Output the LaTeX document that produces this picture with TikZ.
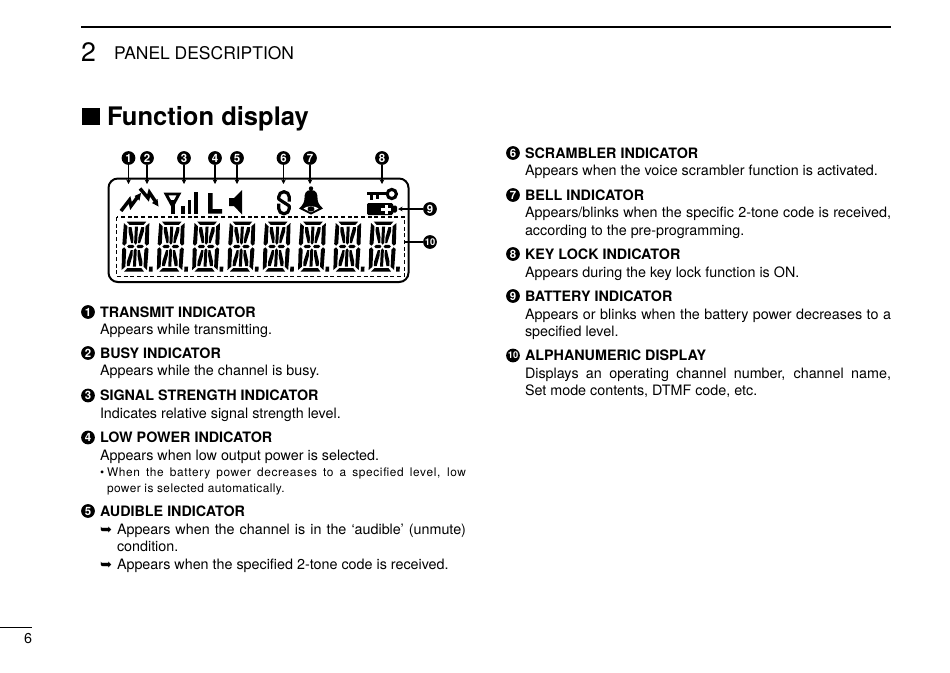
\documentclass[tikz,border=0pt]{standalone}
\usepackage{fontspec}
\setmainfont{TeX Gyre Heros}
\newfontfamily\symfont{DejaVu Sans}
\usetikzlibrary{arrows.meta}
\newcommand{\jl}[2]{\makebox[#1pt][s]{#2}}
\newcommand{\lcddigit}[1]{%
\begin{scope}[shift={(#1,221.5)},xslant=0.05]
\fill (3.6,0)--(23.4,0)--(20.8,3.3)--(6.6,3.3)--cycle;
\fill (3.6,50)--(23.4,50)--(20.8,46.7)--(6.6,46.7)--cycle;
\fill (1,1.5)--(4.6,4.8)--(4.6,21.8)--(2.6,24.2)--(0.5,22.5)--cycle;
\fill (26.4,1.5)--(22.8,4.8)--(22.8,21.8)--(24.8,24.2)--(26.9,22.5)--cycle;
\fill (1,48.5)--(4.6,45.2)--(4.6,28.2)--(2.6,25.8)--(0.5,27.5)--cycle;
\fill (26.4,48.5)--(22.8,45.2)--(22.8,28.2)--(24.8,25.8)--(26.9,27.5)--cycle;
\fill (12.2,5)--(15.2,5)--(15.2,21.2)--(13.7,23.2)--(12.2,21.2)--cycle;
\fill (12.2,45)--(15.2,45)--(15.2,28.8)--(13.7,26.8)--(12.2,28.8)--cycle;
\fill (5.4,25)--(7,23.4)--(11.2,23.4)--(12.6,25)--(11.2,26.6)--(7,26.6)--cycle;
\fill (14.8,25)--(16.2,23.4)--(20.4,23.4)--(22,25)--(20.4,26.6)--(16.2,26.6)--cycle;
\fill (6,5.5)--(8.8,5.5)--(11.2,16)--(11.2,21.5)--(9.2,21.5)--(6,10)--cycle;
\fill (21.4,5.5)--(18.6,5.5)--(16.2,16)--(16.2,21.5)--(18.2,21.5)--(21.4,10)--cycle;
\fill (6,44.5)--(8.8,44.5)--(11.2,34)--(11.2,28.5)--(9.2,28.5)--(6,40)--cycle;
\fill (21.4,44.5)--(18.6,44.5)--(16.2,34)--(16.2,28.5)--(18.2,28.5)--(21.4,40)--cycle;
\fill (28.4,45) rectangle (32,50);
\end{scope}}
\tikzset{
 x=0.75pt,y=-0.75pt,
 tl/.style={anchor=base west,inner sep=0pt,outer sep=0pt,font=\fontsize{10.75pt}{12pt}\selectfont},
 tb/.style={tl,font=\fontsize{10.75pt}{12pt}\selectfont\bfseries},
 ts/.style={tl,font=\fontsize{8.9pt}{11pt}\selectfont\addfontfeature{LetterSpace=3.5}},
 tsw/.style={tl,font=\fontsize{8.9pt}{11pt}\selectfont\addfontfeature{LetterSpace=5.5}},
 numc/.style={circle,fill=black,text=white,inner sep=0pt,minimum size=10.3pt,font=\fontsize{8.6pt}{8pt}\selectfont\bfseries},
 numx/.style={numc,font=\fontsize{7pt}{7pt}\selectfont\bfseries},
 lead/.style={line width=0.8pt,-{Stealth[length=3.5pt,width=3.5pt]}},
 leadn/.style={line width=0.8pt},
 ico/.style={line width=2.6pt},
}
\begin{document}
\begin{tikzpicture}
\useasboundingbox (0,0) rectangle (950,672);
% header
\draw[line width=1.5pt] (81,27) -- (891,27);
\node[tl,font=\fontsize{20pt}{22pt}\selectfont] (chap) at (81,61) {2};
\node[tl,font=\fontsize{13.1pt}{15pt}\selectfont] (head) at (114,59) {PANEL DESCRIPTION};
\fill (82,108) rectangle (100,125);
\node[tl,font=\fontsize{19.15pt}{22pt}\selectfont\bfseries] (title) at (107,125) {Function display};
\draw[line width=0.6pt] (0,627) -- (32,627);
\node[tl] (page) at (24,643) {6};
% LCD
\draw[line width=1.5pt,rounded corners=7pt] (108.5,178.5) rectangle (408.5,282);
\draw[line width=0.9pt,dash pattern=on 3pt off 2pt] (116.5,217) rectangle (404.5,276.5);
\foreach \dx in {0,...,7} {\pgfmathsetmacro{\xx}{123+35.3*\dx}\lcddigit{\xx}}
% transmit / busy
\draw[ico,line join=miter] (121,211) -- (129.5,200) -- (131,206) -- (138,196.5);
\fill (141,193) -- (134.5,196) -- (139.5,200.5) -- cycle;
\draw[ico,line join=miter] (140,188.5) -- (148,198) -- (149.5,192.5) -- (155.5,201.5);
\fill (158.5,206.5) -- (152,203) -- (157.5,199) -- cycle;
% antenna
\draw[line width=2.2pt,line join=miter] (166,194) -- (179,194) -- (172.5,206) -- cycle;
\draw[line width=3pt] (172.5,200) -- (172.5,213.5);
\fill (181,206) rectangle (184.5,213.5);
\fill (187.5,200) rectangle (191,213.5);
\fill (194,192) rectangle (198,213.5);
% L
\fill (208,193) -- (212.5,193) -- (212.5,209) -- (222,209) -- (222,213.5) -- (208,213.5) -- cycle;
% speaker
\fill (229,198) -- (234,198) -- (242,190) -- (242,214.5) -- (234,206) -- (229,206) -- cycle;
% scrambler
\draw[line width=2.4pt,line join=round] (289.3,201.5) -- (289.3,197) arc[start angle=0,end angle=-180,radius=5.3] -- (278.7,199) -- (289.3,206) -- (289.3,208.5) arc[start angle=0,end angle=180,radius=5.3] -- (278.7,203.5);
% bell
\fill (311,188.5) circle[radius=2.2];
\fill (311,190) .. controls (305.5,190) and (304.5,194) .. (304.5,198) .. controls (304.5,202) and (303,205) .. (299,208.5) -- (311,214.5) -- (323,208.5) .. controls (319,205) and (317.5,202) .. (317.5,198) .. controls (317.5,194) and (316.5,190) .. (311,190) -- cycle;
\fill[white] (303.5,208.5) .. controls (307,205.5) and (315,205.5) .. (318.5,208.5) -- (311,212.3) -- cycle;
\fill (311,209) ellipse[x radius=3.5,y radius=2.6];
% key
\draw[line width=2.3pt] (391.8,194) circle[radius=4.6];
\fill (367,192) rectangle (388,195.2);
\fill (370,195) rectangle (373,199.5);
\fill (376,195) rectangle (379,199);
% battery
\fill[rounded corners=1pt] (367,203) rectangle (393,215);
\fill[rounded corners=1pt] (392,205.5) rectangle (397,212.5);
\fill[white] (381,208) rectangle (391,211);
\fill[white] (384.5,204.5) rectangle (387.5,214);
% numbered markers
\foreach \n/\p in {1/128.5,2/147,3/184,4/215,5/237,6/283.5,7/310,8/382}{\node[numc] (n\n) at (\p,158) {\n};}
\node[numc] (n9) at (430,209) {9};
\node[numx] (n10) at (430,242) {10};
\coordinate (e1) at (n1|-0,184); \coordinate (e2) at (n2|-0,184); \coordinate (e3) at (n3|-0,184); \coordinate (e4) at (n4|-0,184);
\coordinate (e5) at (n5|-0,184); \coordinate (e6) at (n6|-0,184); \coordinate (e7) at (n7|-0,184); \coordinate (e8) at (n8|-0,184);
\coordinate (e9) at (398,0|-n9); \coordinate (e10) at (405,0|-n10);
\foreach \n in {1,...,9}{\draw[lead] (n\n) -- (e\n);}
\draw[leadn] (n10) -- (e10);
% left column
\node[numc] (m1) at (88,312) {1};
\node[tb] (a1) at (100,317) {TRANSMIT INDICATOR};
\node[tl] (a2) at (100,334) {Appears while transmitting.};
\node[numc] (m2) at (88,353) {2};
\node[tb] (b1) at (100,358) {BUSY INDICATOR};
\node[tl] (b2) at (100,375) {Appears while the channel is busy.};
\node[numc] (m3) at (88,395.5) {3};
\node[tb] (c1) at (100,400.5) {SIGNAL STRENGTH INDICATOR};
\node[tl] (c2) at (100,418) {Indicates relative signal strength level.};
\node[numc] (m4) at (88,437.5) {4};
\node[tb] (d1) at (100,442.5) {LOW POWER INDICATOR};
\node[tl] (d2) at (100,460) {Appears when low output power is selected.};
\node[ts] (d3) at (100,476) {•};
\node[tsw] (d4) at (107,476) {\jl{269.25}{When the battery power decreases to a specified level, low}};
\node[ts] (d5) at (107,492) {power is selected automatically.};
\node[numc] (m5) at (88,511) {5};
\node[tb] (f1) at (100,516) {AUDIBLE INDICATOR};
\node[tl] (f2) at (100,534) {\symfont ➥};
\node[tl] (f3) at (117,534) {\jl{261.75}{Appears when the channel is in the ‘audible’ (unmute)}};
\node[tl] (f4) at (117,551) {condition.};
\node[tl] (f5) at (100,569) {\symfont ➥};
\node[tl] (f6) at (117,569) {Appears when the specified 2-tone code is received.};
% right column
\node[numc] (m6) at (513,153) {6};
\node[tb] (g1) at (525,158) {SCRAMBLER INDICATOR};
\node[tl] (g2) at (525,175) {Appears when the voice scrambler function is activated.};
\node[numc] (m7) at (513,195) {7};
\node[tb] (h1) at (525,200) {BELL INDICATOR};
\node[tl] (h2) at (525,217) {\jl{274.5}{Appears/blinks when the specific 2-tone code is received,}};
\node[tl] (h3) at (525,235) {according to the pre-programming.};
\node[numc] (m8) at (513,254) {8};
\node[tb] (i1) at (525,259) {KEY LOCK INDICATOR};
\node[tl] (i2) at (525,277) {Appears during the key lock function is ON.};
\node[numc] (m9) at (513,296) {9};
\node[tb] (j1) at (525,301) {BATTERY INDICATOR};
\node[tl] (j2) at (525,319) {\jl{274.5}{Appears or blinks when the battery power decreases to a}};
\node[tl] (j3) at (525,336) {specified level.};
\node[numx] (m10) at (513,355.5) {10};
\node[tb] (k1) at (525,360.5) {ALPHANUMERIC DISPLAY};
\node[tl] (k2) at (525,378) {\jl{274.5}{Displays an operating channel number, channel name,}};
\node[tl] (k3) at (525,395) {Set mode contents, DTMF code, etc.};
\end{tikzpicture}
\end{document}
